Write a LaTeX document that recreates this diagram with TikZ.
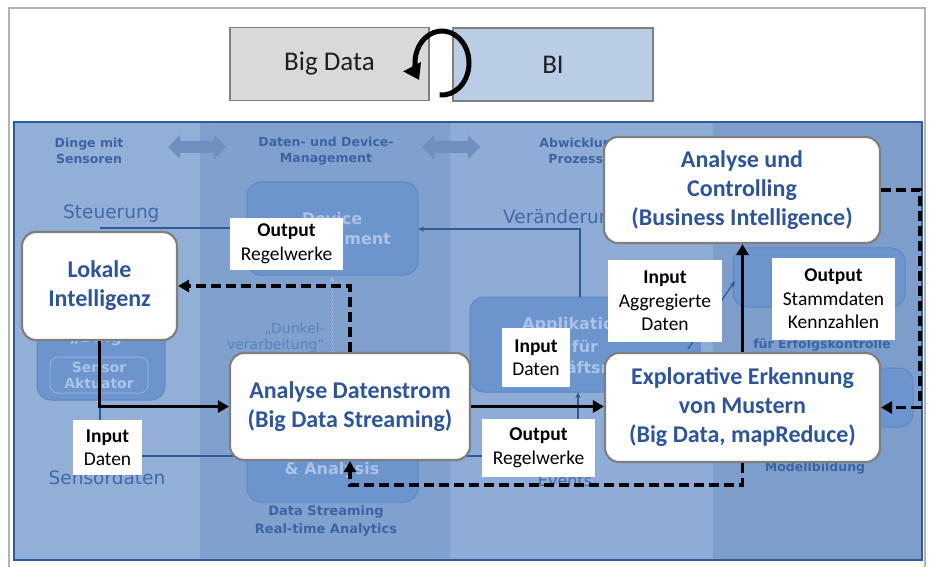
\documentclass[tikz,border=0pt]{standalone}
\usepackage{fontspec}
\setmainfont{Carlito}
\newfontfamily\bgf{DejaVu Sans}
\usetikzlibrary{arrows.meta,calc}
\definecolor{colA}{HTML}{91AFD7}
\definecolor{colB}{HTML}{80A0CD}
\definecolor{colC}{HTML}{8EACD5}
\definecolor{colD}{HTML}{7D9DCB}
\definecolor{panelEdge}{HTML}{2E5C9A}
\definecolor{bgBox}{HTML}{6C94CD}
\definecolor{bgBoxEdge}{HTML}{5F87C3}
\definecolor{bgBoxText}{HTML}{AAC3E6}
\definecolor{headText}{HTML}{3C64A5}
\definecolor{midText}{HTML}{4169AA}
\definecolor{dunkText}{HTML}{5A82BE}
\definecolor{titleBlue}{HTML}{2F5597}
\definecolor{thinLine}{HTML}{2F5A93}
\definecolor{arrGray}{HTML}{6F8FBF}
\definecolor{bdGray}{HTML}{D9D9D9}
\definecolor{biBlue}{HTML}{B9CDE5}
\definecolor{edgeGray}{HTML}{7F7F7F}
\definecolor{dotLine}{HTML}{A9BFDD}
\begin{document}
\begin{tikzpicture}[x=1pt,y=-1pt,
  mainbox/.style={draw=edgeGray, line width=2.2pt, fill=white, rounded corners=14pt,
    text=titleBlue, font=\fontsize{24}{29}\selectfont\bfseries, align=center, inner sep=2pt},
  lbl/.style={fill=white, inner sep=0pt, align=center, text=black,
    font=\fontsize{19.5}{23.5}\selectfont},
  topbox/.style={draw=edgeGray, line width=1.5pt, text=black!88,
    font=\fontsize{27}{30}\selectfont, minimum height=73pt},
  bgbox/.style={fill=bgBox, draw=bgBoxEdge, line width=1pt, rounded corners=14pt},
  bginner/.style={draw=bgBoxText!60!bgBox, line width=1pt, rounded corners=8pt},
  bgtext/.style={text=bgBoxText, font=\bgf\bfseries\fontsize{16}{20}\selectfont, align=center, inner sep=0pt},
  head/.style={text=headText, font=\bgf\bfseries\fontsize{12.5}{16}\selectfont, align=center, inner sep=0pt},
  midtext/.style={text=midText, font=\bgf\fontsize{18.5}{22}\selectfont, inner sep=0pt},
  thinln/.style={thinLine, line width=1.2pt},
  flow/.style={line width=3.5pt, -{Triangle[length=11pt,width=12pt]}},
  dflow/.style={flow, dash pattern=on 10pt off 5pt}
]
\useasboundingbox (0,0) rectangle (930,567);
\fill[white] (0,0) rectangle (930,567);
\draw[edgeGray!60, line width=1.2pt] (9,567) -- (9,8) -- (925,8) -- (925,567);

% ---- top: Big Data / BI ----
\node[topbox, fill=bdGray, minimum width=199pt] (bigdata) at (329.5,64) {Big Data};
\node[topbox, fill=biBlue, minimum width=200pt] (bi) at (553,64.5) {BI};
\coordinate (cyc) at (442,63);
\draw[line width=5pt, -{Triangle[length=15pt,width=19pt]}] (cyc) ++(95:27 and 32)
  arc[start angle=95, end angle=-212, x radius=27, y radius=32];

% ---- background panel ----
\fill[colA] (14,122) rectangle (200,560);
\fill[colB] (200,122) rectangle (450,560);
\fill[colC] (450,122) rectangle (713,560);
\fill[colD] (713,122) rectangle (922,560);
\draw[panelEdge, line width=2pt] (14,122) rectangle (922,560);

\node[head] (h1) at (89,151) {Dinge mit\\Sensoren};
\node[head] (h2) at (326,151) {Daten- und Device-\\Management};
\node[head] (h3) at (580,151) {Abwicklung\\Prozesse};
\foreach \cx in {197,451}{
  \fill[arrGray] (\cx-29,147) -- (\cx-17,135) -- (\cx-17,141) -- (\cx+17,141) -- (\cx+17,135)
    -- (\cx+29,147) -- (\cx+17,159) -- (\cx+17,153) -- (\cx-17,153) -- (\cx-17,159) -- cycle;
}

\node[midtext, anchor=west] (steu) at (63,214) {Steuerung};
\node[midtext, anchor=west] (ver) at (503,218) {Veränderung};
\node[midtext] (sens) at (107,478) {Sensordaten};
\node[midtext, font=\bgf\fontsize{16}{20}\selectfont] (ev) at (565,481) {Events};

% background boxes
\draw[bgbox] (247,182) rectangle (418,275);
\node[bgtext] (devt) at (332,230) {Device\\Management};

\draw[bgbox] (37,290) rectangle (165,400);
\node[bgtext, anchor=base] (dingt) at (101,342) {„Ding“};
\draw[bginner] (50,357) rectangle (148,393);
\node[bgtext, font=\bgf\bfseries\fontsize{14}{16}\selectfont] (sensort) at (99,375) {Sensor\\Aktuator};

\draw[bgbox] (470,297) rectangle (700,392);
\node[bgtext, anchor=base] (app1) at (585,329) {Applikationen};
\node[bgtext, anchor=base] (app2) at (585,352) {für};
\node[bgtext, anchor=base] (app3) at (585,373) {Geschäftsregeln};

\draw[bgbox] (247,380) rectangle (418,502);
\node[bgtext] (anat) at (332,470) {\& Analysis};
\node[head, font=\bgf\bfseries\fontsize{13}{18}\selectfont] (dst) at (326,521) {Data Streaming\\Real-time Analytics};

\draw[bgbox] (733,248) rectangle (905,307);
\node[head] (erf) at (822,345) {für Erfolgskontrolle};
\draw[bgbox] (800,368) rectangle (913,427);
\node[head] (mod) at (815,468) {Modellbildung};

\node[text=dunkText, font=\bgf\fontsize{14}{16}\selectfont, align=right, anchor=east, inner sep=0pt]
  (dunk) at (325,338) {„Dunkel-\\verarbeitung“};
\draw[dotLine, line width=1pt, dash pattern=on 2pt off 2pt, -{Stealth[length=5pt,width=4pt]}] (332,353) -- (332,277);

% thin background connectors
\draw[thinln] (100,228) -- (247,228);
\draw[thinln, -{Stealth[length=6pt,width=5pt]}] (580,297) -- (580,229) -- (418,229);
\draw[thinln, -{Stealth[length=6pt,width=5pt]}] (578,420) -- (578,392);
\draw[thinln] (100,340) -- (100,420);
\draw[thinln] (142,456) -- (482,456);
\draw[thinln, -{Stealth[length=6pt,width=5pt]}] (688,349) -- (735,281);

% ---- foreground boxes ----
\node[mainbox, minimum width=155pt, minimum height=108pt] (lokal) at (99.5,286) {Lokale\\Intelligenz};
\node[mainbox, minimum width=240pt, minimum height=107pt] (stream) at (350,406.5) {Analyse Datenstrom\\(Big Data Streaming)};
\node[mainbox, minimum width=275pt, minimum height=109pt] (explor) at (742.5,407.5) {Explorative Erkennung\\von Mustern\\(Big Data, mapReduce)};
\node[mainbox, minimum width=276pt, minimum height=106pt] (bictl) at (742,190) {Analyse und\\Controlling\\(Business Intelligence)};

% labels
\node[lbl, minimum width=113pt, minimum height=52pt] (out1) at (286.5,244) {\textbf{Output}\\Regelwerke};
\node[lbl, minimum width=69pt, minimum height=55pt] (in1) at (107.5,447.5) {\textbf{Input}\\Daten};
\node[lbl, minimum width=68pt, minimum height=59pt] (in2) at (536,357.5) {\textbf{Input}\\Daten};
\node[lbl, minimum width=113pt, minimum height=58pt] (out2) at (538.5,448) {\textbf{Output}\\Regelwerke};
\node[lbl, minimum width=114pt, minimum height=82pt] (in3) at (665,301) {\textbf{Input}\\Aggregierte\\Daten};
\node[lbl, minimum width=123pt, minimum height=82pt] (out3) at (833.5,299) {\textbf{Output}\\Stammdaten\\Kennzahlen};

% ---- connectors ----
\draw[flow] (lokal.south) |- (stream.west);
\draw[flow] (stream.east) -- (stream.east -| explor.west);
\draw[flow] (explor.north) -- (explor.north |- bictl.south);

\coordinate (r1) at (920,190);
\draw[dflow] (bictl.east |- r1) -- (r1) |- (explor.east);
\coordinate (b1) at (350,485);
\draw[dflow] (explor.south) |- (b1) -- (stream.south);
\coordinate (t1) at (350,286);
\draw[dflow] (stream.north) -- (t1) -- (t1 -| lokal.east);
\end{tikzpicture}
\end{document}
